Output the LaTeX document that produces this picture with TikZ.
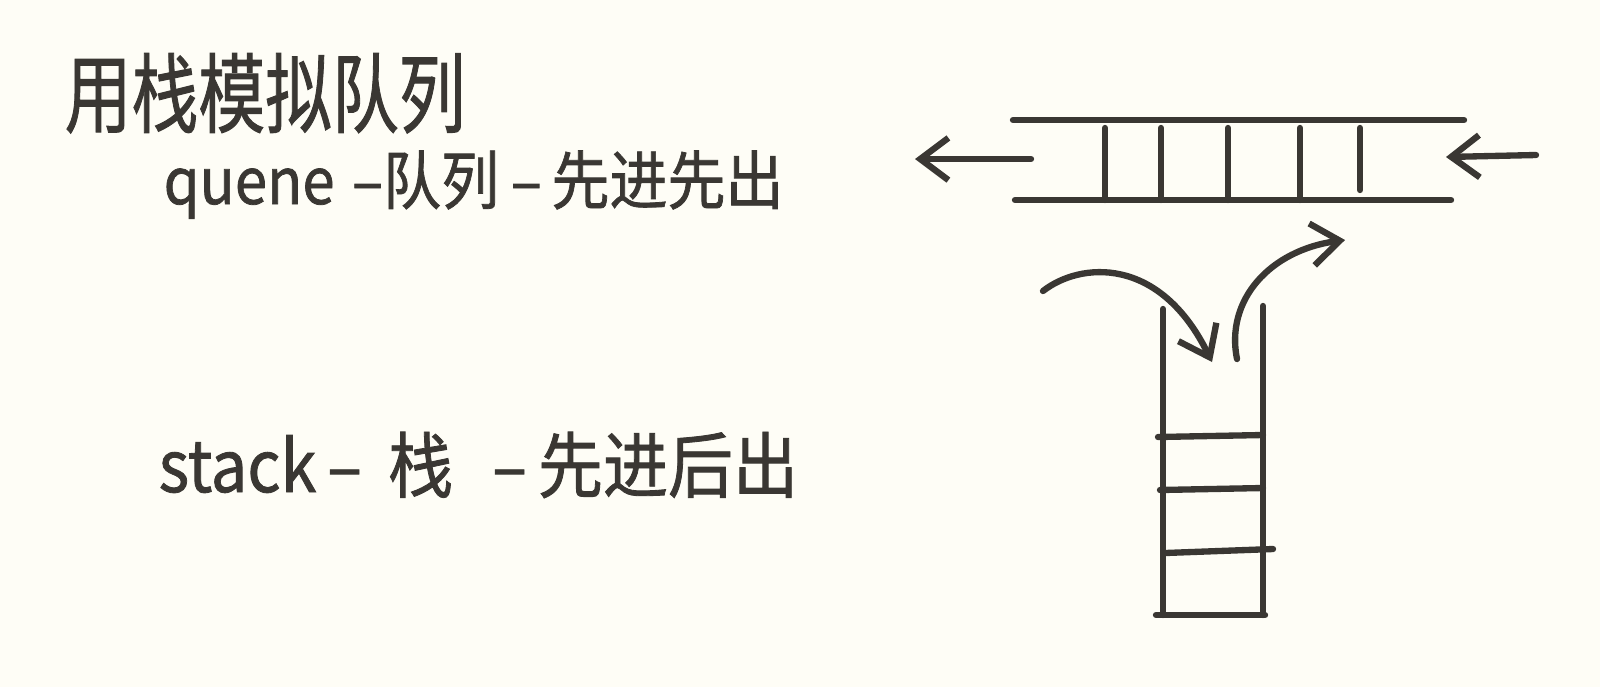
\documentclass[tikz,border=0pt]{standalone}
\usepackage{fontspec}
\newfontfamily\cjk[FakeBold=1.2]{Noto Sans CJK SC}
\usetikzlibrary{arrows.meta}
\definecolor{paper}{HTML}{FEFDF6}
\definecolor{ink}{HTML}{3A3733}
\tikzset{
  pen/.style={draw=ink, line width=1.8pt, line cap=round},
  barb/.style={pen, -{Straight Barb[length=8pt,width=12pt,line width=1.8pt]}},
  txt/.style={text=ink, inner sep=0pt, anchor=base west, font=\cjk}
}
\begin{document}
\begin{tikzpicture}[x=0.01cm,y=-0.01cm]
\fill[paper] (0,0) rectangle (1600,687);
\useasboundingbox (0,0) rectangle (1600,687);
% texts
\node[txt, yscale=1.3, transform shape, font=\cjk\fontsize{19pt}{22pt}\selectfont] (title) at (64,126) {用栈模拟队列};
\node[txt, yscale=1.1, transform shape, font=\cjk\fontsize{16.5pt}{20pt}\selectfont] (q) at (163,204) {quene\hspace{0.3em}–队列\hspace{0.2em}–\,先进先出};
\node[txt, yscale=1.1, transform shape, font=\cjk\fontsize{18.5pt}{22pt}\selectfont] (s) at (158,492) {stack\,–\hspace{0.4em}栈\hspace{0.6em}–\,先进后出};
% queue
\coordinate (qt1) at (1013,120); \coordinate (qt2) at (1464,120);
\coordinate (qb1) at (1015,200); \coordinate (qb2) at (1451,200);
\draw[pen] (qt1) -- (qt2);
\draw[pen] (qb1) -- (qb2);
\foreach \x/\b in {1105/200,1161/200,1228/200,1300/200,1360/190}
  \draw[pen] (\x,128) -- (\x,\b);
\coordinate (outS) at (1031,159); \coordinate (outE) at (915,159);
\draw[barb] (outS) -- (outE);
\coordinate (inS) at (1536,155); \coordinate (inE) at (1446,157);
\draw[barb] (inS) -- (inE);
% stack
\coordinate (sl1) at (1163,309); \coordinate (sl2) at (1163,615);
\coordinate (sr1) at (1263,306); \coordinate (sr2) at (1263,615);
\draw[pen] (sl1) -- (sl2);
\draw[pen] (sr1) -- (sr2);
\draw[pen] (1156,615) -- (1265,615);
\draw[pen] (1158,437) -- (1263,435);
\draw[pen] (1160,490) -- (1263,488);
\draw[pen] (1165,553) -- (1273,549);
% curved arrows
\coordinate (a1) at (1043,291); \coordinate (a2) at (1212,362);
\draw[barb] (a1) .. controls (1080,262) and (1160,255) .. (a2);
\coordinate (b1) at (1237,359); \coordinate (b2) at (1345,240);
\draw[barb] (b1) .. controls (1225,300) and (1270,250) .. (b2);
\end{tikzpicture}
\end{document}
